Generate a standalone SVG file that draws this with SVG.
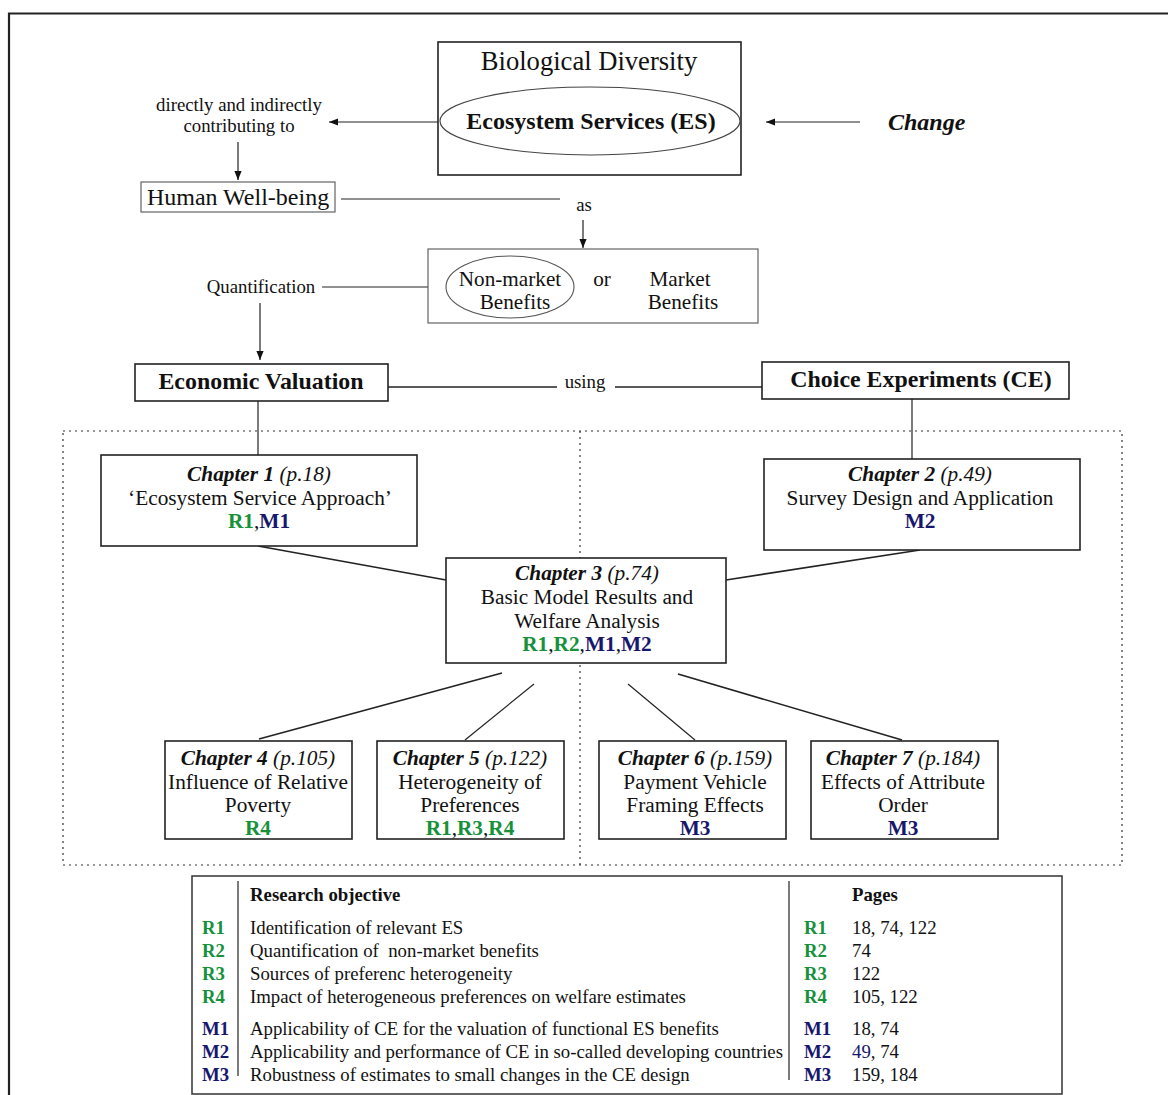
<svg xmlns="http://www.w3.org/2000/svg" width="1168" height="1095" viewBox="0 0 1168 1095">
<defs>
<marker id="ah" viewBox="0 0 10 10" refX="10" refY="5" markerWidth="9" markerHeight="9" markerUnits="userSpaceOnUse" orient="auto"><path d="M0,1 L10,5 L0,9 z" fill="#111"/></marker>
<style>
text{font-family:"Liberation Serif","Times New Roman",serif;fill:#111}
.box{fill:#fff;stroke:#222;stroke-width:1.6}
.thin{fill:#fff;stroke:#555;stroke-width:1.1}
.ln{stroke:#222;stroke-width:1.2;fill:none}
.ln2{stroke:#222;stroke-width:1.6;fill:none}
.dot{stroke:#333;stroke-width:1.2;stroke-dasharray:2 4;fill:none}
.b{font-weight:bold}
.bi{font-weight:bold;font-style:italic}
.i{font-style:italic}
.g{fill:#17913a;font-weight:bold}
.n{fill:#17176e;font-weight:bold}
.c{text-anchor:middle}
.t17{font-size:18.8px}
.t19{font-size:21.3px}
.t20{font-size:21.2px}
</style>
</defs>
<rect width="1168" height="1095" fill="#fff"/>
<path d="M9,1095 V13.5 H1168" fill="none" stroke="#222" stroke-width="2.2"/>

<g id="connectors">
<line class="ln" x1="438" y1="122" x2="329" y2="122" marker-end="url(#ah)"/>
<line class="ln" x1="238" y1="142" x2="238" y2="180" marker-end="url(#ah)"/>
<line class="ln" x1="860" y1="122" x2="766" y2="122" marker-end="url(#ah)"/>
<line class="ln" x1="341" y1="199" x2="560" y2="199"/>
<line class="ln" x1="583" y1="220" x2="583" y2="248" marker-end="url(#ah)"/>
<line class="ln" x1="322" y1="287" x2="447" y2="287"/>
<line class="ln" x1="260" y1="303" x2="260" y2="360" marker-end="url(#ah)"/>
<line class="ln2" x1="388" y1="387" x2="557" y2="387"/>
<line class="ln2" x1="615" y1="387" x2="762" y2="387"/>
<line class="ln" x1="258" y1="401" x2="258" y2="455"/>
<line class="ln" x1="912" y1="399" x2="912" y2="459"/>
<line class="ln2" x1="258" y1="546" x2="446" y2="580"/>
<line class="ln2" x1="920" y1="550" x2="726" y2="580"/>
<line class="ln2" x1="502" y1="673" x2="259" y2="739"/>
<line class="ln" x1="534" y1="684" x2="465" y2="740"/>
<line class="ln" x1="628" y1="684" x2="695" y2="740"/>
<line class="ln2" x1="678" y1="674" x2="902" y2="740"/>
<rect class="dot" x="63" y="431" width="1059" height="434"/>
<line class="dot" x1="580" y1="431" x2="580" y2="865"/>
</g>

<g id="biodiversity">
<rect class="box" x="438" y="42" width="303" height="133"/>
<text class="c" x="589" y="70" font-size="26.6">Biological Diversity</text>
</g>
<g id="es">
<ellipse cx="590" cy="121" rx="150" ry="34" fill="none" stroke="#444" stroke-width="1.1"/>
<text class="c b" x="591" y="129" font-size="24">Ecosystem Services (ES)</text>
</g>
<g id="contrib">
<text class="c t17" x="239" y="111">directly and indirectly</text>
<text class="c t17" x="239" y="132">contributing to</text>
</g>
<g id="change">
<text class="bi" x="888" y="130" font-size="24">Change</text>
</g>
<g id="wellbeing">
<rect class="thin" x="141" y="182" width="194" height="30"/>
<text class="c" x="238" y="205" font-size="24">Human Well-being</text>
</g>
<g id="as"><text class="c t17" x="584" y="211">as</text></g>
<g id="benefits">
<rect class="thin" x="428" y="249" width="330" height="74"/>
<ellipse cx="510" cy="287" rx="64" ry="31" fill="none" stroke="#555" stroke-width="1.1"/>
<text class="c t20" x="510" y="286">Non-market</text>
<text class="c t20" x="515" y="309">Benefits</text>
<text class="c t20" x="602" y="286">or</text>
<text class="c t20" x="680" y="286">Market</text>
<text class="c t20" x="683" y="309">Benefits</text>
</g>
<g id="quant"><text class="c t17" x="261" y="293">Quantification</text></g>
<g id="econval">
<rect class="box" x="135" y="364" width="253" height="37"/>
<text class="c b" x="261" y="389" font-size="23.9">Economic Valuation</text>
</g>
<g id="using"><text class="c t17" x="585" y="388">using</text></g>
<g id="ce">
<rect class="box" x="762" y="362" width="307" height="37"/>
<text class="c b" x="921" y="387" font-size="23.9">Choice Experiments (CE)</text>
</g>

<g id="ch1">
<rect class="box" x="101" y="455" width="316" height="91"/>
<text class="c t19" x="259" y="481"><tspan class="bi">Chapter 1</tspan><tspan class="i"> (p.18)</tspan></text>
<text class="c t19" x="260" y="505">‘Ecosystem Service Approach’</text>
<text class="c t19" x="259" y="528"><tspan class="g">R1</tspan>,<tspan class="n">M1</tspan></text>
</g>
<g id="ch2">
<rect class="box" x="764" y="459" width="316" height="91"/>
<text class="c t19" x="920" y="481"><tspan class="bi">Chapter 2</tspan><tspan class="i"> (p.49)</tspan></text>
<text class="c t19" x="920" y="505">Survey Design and Application</text>
<text class="c t19" x="920" y="528"><tspan class="n">M2</tspan></text>
</g>
<g id="ch3">
<rect class="box" x="446" y="558" width="280" height="105"/>
<text class="c t19" x="587" y="580"><tspan class="bi">Chapter 3</tspan><tspan class="i"> (p.74)</tspan></text>
<text class="c t19" x="587" y="604">Basic Model Results and</text>
<text class="c t19" x="587" y="628">Welfare Analysis</text>
<text class="c t19" x="587" y="651"><tspan class="g">R1</tspan>,<tspan class="g">R2</tspan>,<tspan class="n">M1</tspan>,<tspan class="n">M2</tspan></text>
</g>
<g id="ch4">
<rect class="box" x="165" y="741" width="187" height="98"/>
<text class="c t19" x="258" y="765"><tspan class="bi">Chapter 4</tspan><tspan class="i"> (p.105)</tspan></text>
<text class="c t19" x="258" y="789">Influence of Relative</text>
<text class="c t19" x="258" y="812">Poverty</text>
<text class="c t19" x="258" y="835"><tspan class="g">R4</tspan></text>
</g>
<g id="ch5">
<rect class="box" x="377" y="741" width="187" height="98"/>
<text class="c t19" x="470" y="765"><tspan class="bi">Chapter 5</tspan><tspan class="i"> (p.122)</tspan></text>
<text class="c t19" x="470" y="789">Heterogeneity of</text>
<text class="c t19" x="470" y="812">Preferences</text>
<text class="c t19" x="470" y="835"><tspan class="g">R1</tspan>,<tspan class="g">R3</tspan>,<tspan class="g">R4</tspan></text>
</g>
<g id="ch6">
<rect class="box" x="599" y="741" width="187" height="98"/>
<text class="c t19" x="695" y="765"><tspan class="bi">Chapter 6</tspan><tspan class="i"> (p.159)</tspan></text>
<text class="c t19" x="695" y="789">Payment Vehicle</text>
<text class="c t19" x="695" y="812">Framing Effects</text>
<text class="c t19" x="695" y="835"><tspan class="n">M3</tspan></text>
</g>
<g id="ch7">
<rect class="box" x="811" y="741" width="187" height="98"/>
<text class="c t19" x="903" y="765"><tspan class="bi">Chapter 7</tspan><tspan class="i"> (p.184)</tspan></text>
<text class="c t19" x="903" y="789">Effects of Attribute</text>
<text class="c t19" x="903" y="812">Order</text>
<text class="c t19" x="903" y="835"><tspan class="n">M3</tspan></text>
</g>

<g id="table">
<rect x="192" y="876" width="870" height="218" fill="#fff" stroke="#333" stroke-width="1.5"/>
<line class="ln" x1="238" y1="881" x2="238" y2="1076"/>
<line class="ln" x1="789" y1="881" x2="789" y2="1080"/>
<text class="b t17" x="250" y="901">Research objective</text>
<text class="b t17" x="852" y="901">Pages</text>
<g class="t17">
<text class="g" x="202" y="934">R1</text><text x="250" y="934">Identification of relevant ES</text>
<text class="g" x="804" y="934">R1</text><text x="852" y="934">18, 74, 122</text>
<text class="g" x="202" y="957">R2</text><text x="250" y="957" xml:space="preserve">Quantification of  non-market benefits</text>
<text class="g" x="804" y="957">R2</text><text x="852" y="957">74</text>
<text class="g" x="202" y="980">R3</text><text x="250" y="980">Sources of preferenc heterogeneity</text>
<text class="g" x="804" y="980">R3</text><text x="852" y="980">122</text>
<text class="g" x="202" y="1003">R4</text><text x="250" y="1003">Impact of heterogeneous preferences on welfare estimates</text>
<text class="g" x="804" y="1003">R4</text><text x="852" y="1003">105, 122</text>
<text class="n" x="202" y="1035">M1</text><text x="250" y="1035">Applicability of CE for the valuation of functional ES benefits</text>
<text class="n" x="804" y="1035">M1</text><text x="852" y="1035">18, 74</text>
<text class="n" x="202" y="1058">M2</text><text x="250" y="1058">Applicability and performance of CE in so-called developing countries</text>
<text class="n" x="804" y="1058">M2</text><text x="852" y="1058"><tspan fill="#17176e">49</tspan>, 74</text>
<text class="n" x="202" y="1081">M3</text><text x="250" y="1081">Robustness of estimates to small changes in the CE design</text>
<text class="n" x="804" y="1081">M3</text><text x="852" y="1081">159, 184</text>
</g>
</g>
</svg>
